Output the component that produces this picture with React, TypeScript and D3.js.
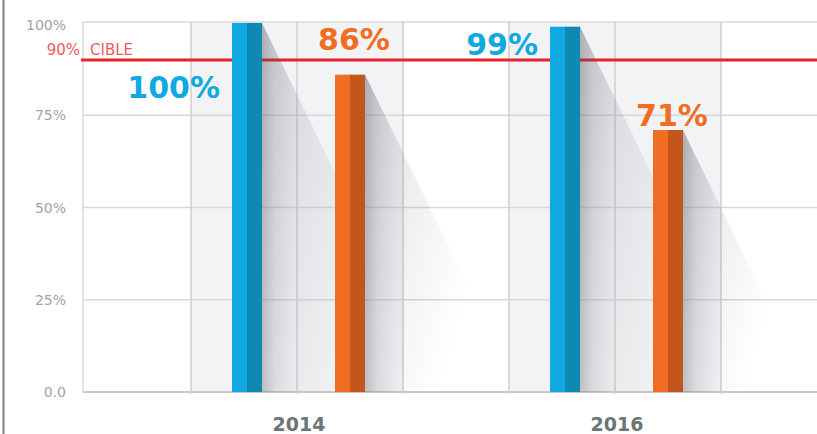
import React from "react";
import * as d3 from "d3";

const years = ["2014", "2016"];
const series = ["blue", "orange"];
const blueValues = [100, 99];
const orangeValues = [86, 71];
const yTicks = [0, 25, 50, 75, 100];
const yTickLabels = ["0.0", "25%", "50%", "75%", "100%"];
const target = 90;
const targetLabel = ["90%", "CIBLE"];

const W = 817;
const H = 434;
const plotLeft = 83;
const plotRight = 817;

const colors = {
  blue: { light: "#10a9e1", dark: "#0e89b3" },
  orange: { light: "#f06d23", dark: "#c4561d" },
};

export default function App() {
  const y = d3.scaleLinear().domain([0, 100]).range([392, 23]);
  const x = d3.scaleBand().domain(years).range([138, 774]);
  const inner = d3.scalePoint().domain(series).range([-50, 53]);
  const barW = 30;
  const half = 106;

  const bars = years.flatMap((yr, i) => [
    { year: yr, s: "blue", v: blueValues[i] },
    { year: yr, s: "orange", v: orangeValues[i] },
  ]);

  const cx = (yr: string) => (x(yr) as number) + x.bandwidth() / 2;
  const bx = (yr: string, s: string) => cx(yr) + (inner(s) as number) - barW / 2;
  const base = y(0);
  const yT = y(target);

  const vLines = years.flatMap((yr) => [cx(yr) - half, cx(yr), cx(yr) + half]);

  const valueFont = "'DejaVu Sans', sans-serif";

  return (
    <svg
      width={W}
      height={H}
      style={{ position: "fixed", left: 0, top: 0, background: "#fff" }}
    >
      <defs>
        <linearGradient id="shadow" x1="0" y1="0" x2="1" y2="0.55">
          <stop offset="0" stopColor="#4a4d58" stopOpacity="0.22" />
          <stop offset="0.35" stopColor="#4a4d58" stopOpacity="0.1" />
          <stop offset="0.6" stopColor="#4a4d58" stopOpacity="0.04" />
          <stop offset="0.8" stopColor="#4a4d58" stopOpacity="0" />
        </linearGradient>
        <linearGradient id="band" x1="0" y1="0" x2="1" y2="0">
          <stop offset="0" stopColor="#4a4d58" stopOpacity="0.25" />
          <stop offset="0.4" stopColor="#4a4d58" stopOpacity="0.08" />
          <stop offset="1" stopColor="#4a4d58" stopOpacity="0" />
        </linearGradient>
      </defs>
      <rect x={0} y={0} width={W} height={H} fill="#fff" />
      {/* left border */}
      <line x1={3.5} x2={3.5} y1={0} y2={H} stroke="#7d7d7d" strokeWidth={2} />
      {/* shaded columns */}
      {years.map((yr) => (
        <rect
          key={"col" + yr}
          x={cx(yr) - half}
          y={y(100) - 1}
          width={half * 2}
          height={base - y(100) + 1}
          fill="#f2f3f5"
        />
      ))}
      {/* horizontal gridlines */}
      {yTicks.map((t) => (
        <line
          key={"h" + t}
          x1={plotLeft}
          x2={plotRight}
          y1={t === 100 ? y(t) - 1 : y(t)}
          y2={t === 100 ? y(t) - 1 : y(t)}
          stroke={t === 0 ? "#c9c9c9" : "#d8d8d8"}
          strokeWidth={t === 0 ? 2 : 1.5}
        />
      ))}
      {/* vertical gridlines */}
      <line x1={plotLeft} x2={plotLeft} y1={y(100) - 1} y2={base} stroke="#d8d8d8" strokeWidth={1.5} />
      {vLines.map((vx, i) => (
        <line key={"v" + i} x1={vx} x2={vx} y1={y(100) - 1} y2={base + 2} stroke="#cfcfcf" strokeWidth={1.5} />
      ))}
      {/* y tick labels */}
      {yTicks.map((t, i) => (
        <text
          key={"yl" + t}
          x={66}
          y={t === 100 ? y(t) + 2 : y(t)}
          textAnchor="end"
          dominantBaseline="central"
          fontFamily="'DejaVu Sans', sans-serif"
          fontSize={14}
          fill="#a3a3a3"
        >
          {yTickLabels[i]}
        </text>
      ))}
      {/* target line */}
      <line x1={plotLeft - 2} x2={plotRight} y1={yT} y2={yT} stroke="#e8232b" strokeWidth={3} />
      <text
        x={80}
        y={yT - 5}
        textAnchor="end"
        fontFamily="'DejaVu Sans', sans-serif"
        fontSize={15}
        fill="#f1585e"
      >
        {targetLabel[0]}
      </text>
      <text
        x={90}
        y={yT - 5}
        fontFamily="'DejaVu Sans', sans-serif"
        fontSize={15}
        fill="#f1585e"
      >
        {targetLabel[1]}
      </text>
      {/* shadows */}
      {bars.map((b) => {
        const x1 = bx(b.year, b.s) + barW;
        const top = y(b.v);
        const len = (base - top) / 2.05;
        return (
          <g key={"sh" + b.year + b.s}>
            <polygon
              points={`${x1},${top} ${x1 + len},${base} ${x1},${base}`}
              fill="url(#shadow)"
            />
            <polygon
              points={`${x1},${top} ${x1 + 32},${top + 32 * 2.05} ${x1 + 32},${base} ${x1},${base}`}
              fill="url(#band)"
            />
          </g>
        );
      })}
      {/* bars */}
      {bars.map((b) => {
        const c = colors[b.s as "blue" | "orange"];
        const x0 = bx(b.year, b.s);
        const top = y(b.v);
        return (
          <g key={"b" + b.year + b.s}>
            <rect x={x0} y={top} width={barW / 2} height={base - top} fill={c.light} />
            <rect x={x0 + barW / 2} y={top} width={barW / 2} height={base - top} fill={c.dark} />
          </g>
        );
      })}
      {/* value labels */}
      {bars.map((b) => {
        const x0 = bx(b.year, b.s);
        const top = y(b.v);
        if (b.s === "blue") {
          const baseline = b.v >= 100 ? yT + 38 : top + 28;
          return (
            <text
              key={"vl" + b.year + b.s}
              x={x0 - 12}
              y={baseline}
              textAnchor="end"
              fontFamily={valueFont}
              fontWeight="bold"
              fontSize={30}
              fill={colors.blue.light}
            >
              {b.v}%
            </text>
          );
        }
        let baseline = top - 4;
        if (baseline - 24 < yT + 2 && baseline > yT - 26) baseline = yT - 10;
        return (
          <text
            key={"vl" + b.year + b.s}
            x={x0 + barW / 2 + 4}
            y={baseline}
            textAnchor="middle"
            fontFamily={valueFont}
            fontWeight="bold"
            fontSize={30}
            fill={colors.orange.light}
          >
            {b.v}%
          </text>
        );
      })}
      {/* x labels */}
      {years.map((yr) => (
        <text
          key={"xl" + yr}
          x={cx(yr) + 2}
          y={431}
          textAnchor="middle"
          fontFamily={valueFont}
          fontWeight="bold"
          fontSize={19}
          fill="#6b7573"
        >
          {yr}
        </text>
      ))}
    </svg>
  );
}
